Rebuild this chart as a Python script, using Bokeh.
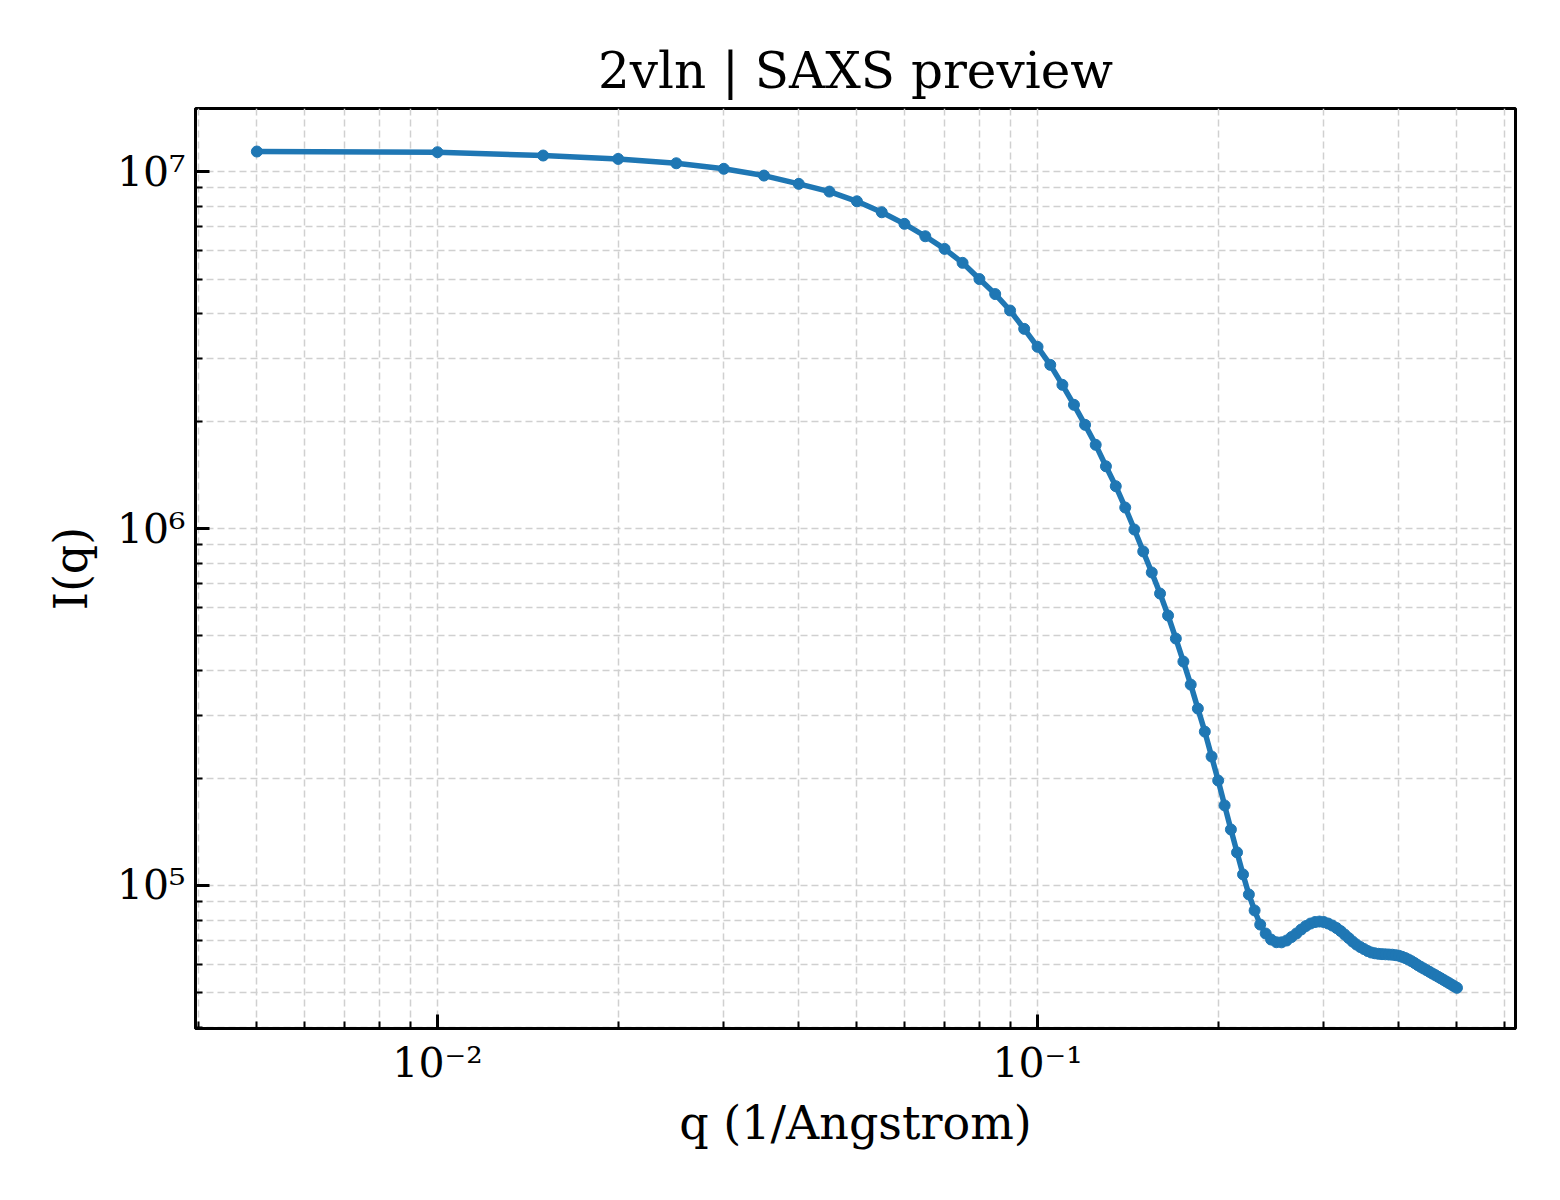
from bokeh.plotting import figure
from bokeh.models import Range1d, FixedTicker
from bokeh.embed import file_html
from bokeh.resources import INLINE

# scattering vector q (1/Angstrom)
q = [0.005, 0.010, 0.015, 0.020, 0.025, 0.030, 0.035, 0.040, 0.045, 0.050,
     0.055, 0.060, 0.065, 0.070, 0.075, 0.080, 0.085, 0.090, 0.095, 0.100,
     0.105, 0.110, 0.115, 0.120, 0.125, 0.130, 0.135, 0.140, 0.145, 0.150,
     0.155, 0.160, 0.165, 0.170, 0.175, 0.180, 0.185, 0.190, 0.195, 0.200,
     0.205, 0.210, 0.215, 0.220, 0.225, 0.230, 0.235, 0.240, 0.245, 0.250,
     0.255, 0.260, 0.265, 0.270, 0.275, 0.280, 0.285, 0.290, 0.295, 0.300,
     0.305, 0.310, 0.315, 0.320, 0.325, 0.330, 0.335, 0.340, 0.345, 0.350,
     0.355, 0.360, 0.365, 0.370, 0.375, 0.380, 0.385, 0.390, 0.395, 0.400,
     0.405, 0.410, 0.415, 0.420, 0.425, 0.430, 0.435, 0.440, 0.445, 0.450,
     0.455, 0.460, 0.465, 0.470, 0.475, 0.480, 0.485, 0.490, 0.495, 0.500]

# intensity I(q)
intensity = [1.138e7, 1.133e7, 1.109e7, 1.085e7, 1.055e7, 1.018e7, 9.745e6, 9.237e6, 8.788e6, 8.255e6,
             7.691e6, 7.138e6, 6.588e6, 6.073e6, 5.550e6, 4.999e6, 4.538e6, 4.081e6, 3.625e6, 3.229e6,
             2.874e6, 2.527e6, 2.221e6, 1.952e6, 1.716e6, 1.494e6, 1.314e6, 1.145e6, 9.936e5, 8.626e5,
             7.531e5, 6.574e5, 5.706e5, 4.918e5, 4.239e5, 3.654e5, 3.130e5, 2.698e5, 2.298e5, 1.968e5,
             1.676e5, 1.435e5, 1.238e5, 1.074e5, 9.436e4, 8.512e4, 7.772e4, 7.335e4, 7.057e4, 6.935e4,
             6.930e4, 7.011e4, 7.171e4, 7.335e4, 7.526e4, 7.698e4, 7.823e4, 7.899e4, 7.924e4, 7.899e4,
             7.823e4, 7.722e4, 7.599e4, 7.453e4, 7.288e4, 7.125e4, 6.966e4, 6.833e4, 6.724e4, 6.637e4,
             6.552e4, 6.489e4, 6.456e4, 6.435e4, 6.422e4, 6.414e4, 6.406e4, 6.398e4, 6.381e4, 6.357e4,
             6.312e4, 6.263e4, 6.203e4, 6.135e4, 6.064e4, 5.986e4, 5.917e4, 5.853e4, 5.789e4, 5.729e4,
             5.667e4, 5.609e4, 5.551e4, 5.494e4, 5.438e4, 5.382e4, 5.327e4, 5.272e4, 5.218e4, 5.168e4]

x_ticks = [0.01, 0.1]
x_tick_labels = ["10\u207b\u00b2", "10\u207b\u00b9"]
x_minor = [0.004, 0.005, 0.006, 0.007, 0.008, 0.009,
           0.02, 0.03, 0.04, 0.05, 0.06, 0.07, 0.08, 0.09,
           0.2, 0.3, 0.4, 0.5, 0.6]
y_ticks = [1e5, 1e6, 1e7]
y_tick_labels = ["10\u2075", "10\u2076", "10\u2077"]
y_minor = [4e4, 5e4, 6e4, 7e4, 8e4, 9e4,
           2e5, 3e5, 4e5, 5e5, 6e5, 7e5, 8e5, 9e5,
           2e6, 3e6, 4e6, 5e6, 6e6, 7e6, 8e6, 9e6]

FONT = "DejaVu Serif"
BLUE = "#1f77b4"

p = figure(width=1550, height=1190, x_axis_type="log", y_axis_type="log",
           x_range=Range1d(0.003951, 0.6259), y_range=Range1d(3.975e4, 1.502e7),
           output_backend="svg", toolbar_location=None,
           min_border_left=195, min_border_right=35,
           min_border_top=108, min_border_bottom=162)

p.title.text = "2vln | SAXS preview"
p.title.align = "center"
p.title.text_font = FONT
p.title.text_font_size = "50px"
p.title.text_font_style = "normal"
p.title.text_color = "black"
p.title.standoff = 18

p.outline_line_color = "black"
p.outline_line_width = 3

p.xaxis.ticker = FixedTicker(ticks=x_ticks, minor_ticks=x_minor)
p.yaxis.ticker = FixedTicker(ticks=y_ticks, minor_ticks=y_minor)
p.xaxis.major_label_overrides = dict(zip(x_ticks, x_tick_labels))
p.yaxis.major_label_overrides = dict(zip(y_ticks, y_tick_labels))

p.xaxis.axis_label = "q (1/Angstrom)"
p.yaxis.axis_label = "I(q)"

for ax in [p.xaxis[0], p.yaxis[0]]:
    ax.axis_line_width = 3
    ax.axis_line_color = "black"
    ax.major_tick_in = 14
    ax.major_tick_out = 0
    ax.minor_tick_in = 7
    ax.minor_tick_out = 0
    ax.major_tick_line_width = 3
    ax.minor_tick_line_width = 2
    ax.major_tick_line_color = "black"
    ax.minor_tick_line_color = "black"
    ax.major_label_text_font = FONT
    ax.major_label_text_font_size = "41px"
    ax.major_label_text_color = "black"
    ax.axis_label_text_font = FONT
    ax.axis_label_text_font_size = "46px"
    ax.axis_label_text_font_style = "normal"
    ax.axis_label_text_color = "black"
    ax.major_label_standoff = 10

p.xaxis.axis_label_standoff = 6
p.yaxis.axis_label_standoff = 16

for g in [p.xgrid[0], p.ygrid[0]]:
    g.grid_line_color = "#d0d0d0"
    g.grid_line_width = 1.5
    g.grid_line_dash = "7 4"
    g.minor_grid_line_color = "#d0d0d0"
    g.minor_grid_line_width = 1.5
    g.minor_grid_line_dash = "7 4"

p.line(q, intensity, color=BLUE, line_width=5.5)
p.scatter(q, intensity, size=11, color=BLUE)

open("out.html", "w").write(file_html(p, INLINE))
